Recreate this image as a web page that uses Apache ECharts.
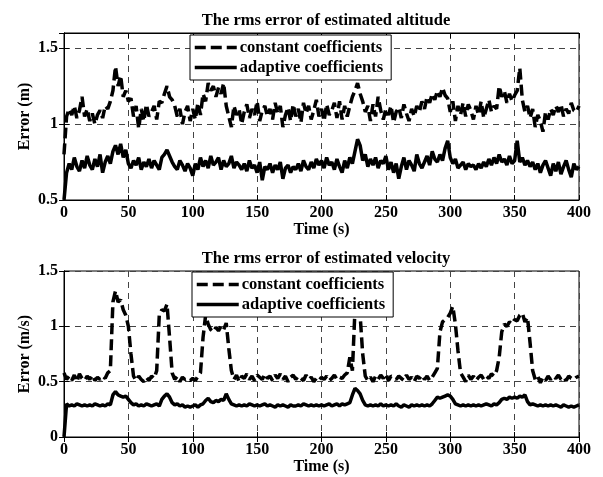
<!DOCTYPE html>
<html>
<head>
<meta charset="utf-8">
<script src="https://cdn.jsdelivr.net/npm/echarts@6/dist/echarts.min.js"></script>
<style>
  html, body { margin: 0; padding: 0; background: #fff; }
  #main { width: 603px; height: 477px; }
</style>
</head>
<body>
<div id="main"></div>
<script>
// rms error, altitude (top) and velocity (bottom), sampled every 2 s
var time = [];
for (var t = 0; t <= 400; t += 2) time.push(t);

var altConst = [
  0.80, 1.05, 1.10, 1.06, 1.12, 1.04, 1.09, 1.18, 1.05, 1.10,
  1.02, 1.07, 1.00, 1.06, 1.09, 1.04, 1.12, 1.10, 1.15, 1.22,
  1.38, 1.25, 1.32, 1.18, 1.22, 1.15, 1.17, 1.05, 1.12, 0.97,
  1.10, 1.02, 1.13, 1.05, 1.08, 1.12, 1.03, 1.15, 1.14, 1.20,
  1.25, 1.18, 1.16, 1.12, 1.05, 1.10, 1.00, 1.08, 1.12, 1.02,
  1.10, 1.03, 1.14, 1.06, 1.20, 1.15, 1.27, 1.22, 1.25, 1.18,
  1.24, 1.20, 1.27, 1.12, 1.05, 0.98, 1.12, 1.06, 1.10, 1.00,
  1.08, 1.13, 1.04, 1.10, 1.06, 1.15, 1.02, 1.09, 1.12, 1.05,
  1.10, 1.03, 1.14, 1.07, 1.12, 0.98, 1.06, 1.11, 1.02, 1.13,
  1.05, 1.10, 1.01, 1.14, 1.07, 1.12, 1.03, 1.09, 1.16, 1.05,
  1.10, 1.02, 1.13, 1.06, 1.09, 1.14, 1.04, 1.15, 1.03, 1.12,
  1.05, 1.12, 1.18, 1.22, 1.27, 1.20, 1.15, 1.08, 1.12, 1.02,
  1.13, 1.05, 1.18, 1.09, 1.03, 1.10, 1.06, 1.12, 1.01, 1.08,
  1.11, 1.04, 1.13, 1.07, 1.02, 1.10, 1.05, 1.12, 1.08, 1.15,
  1.10, 1.18, 1.14, 1.20, 1.16, 1.22, 1.18, 1.24, 1.19, 1.17,
  1.08, 1.15, 1.02, 1.12, 1.06, 1.14, 1.05, 1.13, 1.09, 1.03,
  1.12, 1.06, 1.15, 1.04, 1.10, 1.16, 1.08, 1.12, 1.10, 1.25,
  1.18, 1.22, 1.14, 1.20, 1.15, 1.19, 1.22, 1.37, 1.16, 1.08,
  1.12, 1.04, 1.10, 0.98, 1.06, 1.02, 0.95, 1.08, 1.03, 1.10,
  1.06, 1.12, 1.08, 1.13, 1.05, 1.10, 1.07, 1.14, 1.09, 1.08,
  1.12
];
var altAdapt = [
  0.50, 0.68, 0.74, 0.70, 0.78, 0.72, 0.69, 0.76, 0.71, 0.79,
  0.73, 0.70, 0.77, 0.72, 0.80, 0.68, 0.75, 0.79, 0.74, 0.82,
  0.86, 0.80, 0.87, 0.78, 0.83, 0.74, 0.71, 0.76, 0.73, 0.78,
  0.70, 0.75, 0.72, 0.77, 0.71, 0.76, 0.73, 0.70, 0.78, 0.80,
  0.83, 0.79, 0.75, 0.72, 0.70, 0.76, 0.73, 0.69, 0.74, 0.71,
  0.66, 0.74, 0.70, 0.78, 0.72, 0.76, 0.71, 0.79, 0.73, 0.75,
  0.78, 0.70, 0.76, 0.72, 0.74, 0.79, 0.71, 0.75, 0.73, 0.70,
  0.74, 0.69, 0.76, 0.71, 0.73, 0.68, 0.75, 0.63, 0.72, 0.70,
  0.74, 0.68, 0.73, 0.70, 0.75, 0.64, 0.71, 0.73, 0.68, 0.72,
  0.70, 0.74, 0.69, 0.76, 0.72, 0.70, 0.75, 0.71, 0.77, 0.73,
  0.76, 0.71, 0.78, 0.73, 0.75, 0.70, 0.77, 0.72, 0.68, 0.76,
  0.71, 0.78, 0.74, 0.82, 0.90, 0.86, 0.76, 0.80, 0.72, 0.77,
  0.73, 0.78, 0.71, 0.76, 0.74, 0.79, 0.70, 0.75, 0.68, 0.74,
  0.64, 0.72, 0.78, 0.70, 0.76, 0.73, 0.69, 0.80, 0.74, 0.71,
  0.75, 0.79, 0.73, 0.82, 0.77, 0.75, 0.80, 0.76, 0.84, 0.89,
  0.78, 0.74, 0.77, 0.71, 0.73, 0.75, 0.70, 0.74, 0.72, 0.73,
  0.70, 0.74, 0.71, 0.75, 0.72, 0.77, 0.73, 0.78, 0.74, 0.80,
  0.75, 0.77, 0.73, 0.79, 0.74, 0.76, 0.89, 0.75, 0.78, 0.73,
  0.76, 0.72, 0.75, 0.70, 0.74, 0.68, 0.73, 0.76, 0.71, 0.66,
  0.74, 0.69, 0.75, 0.67, 0.72, 0.76, 0.70, 0.65, 0.74, 0.70,
  0.72
];
var velConst = [
  0.58, 0.52, 0.55, 0.51, 0.56, 0.50, 0.57, 0.53, 0.51, 0.55,
  0.52, 0.56, 0.51, 0.54, 0.52, 0.55, 0.53, 0.58, 0.60, 1.22,
  1.32, 1.22, 1.24, 1.15, 1.10, 1.00, 0.75, 0.55, 0.51, 0.55,
  0.52, 0.50, 0.54, 0.51, 0.55, 0.53, 0.60, 1.10, 1.15, 1.14,
  1.20, 0.90, 0.58, 0.52, 0.55, 0.50, 0.54, 0.52, 0.53, 0.51,
  0.53, 0.51, 0.55, 0.58, 0.90, 1.10, 1.02, 0.97, 0.95, 0.99,
  0.96, 1.00, 0.97, 1.03, 0.80, 0.60, 0.52, 0.56, 0.50, 0.55,
  0.53, 0.57, 0.52, 0.55, 0.51, 0.56, 0.54, 0.52, 0.57, 0.53,
  0.55, 0.51, 0.56, 0.53, 0.57, 0.52, 0.55, 0.50, 0.54, 0.56,
  0.52, 0.55, 0.53, 0.51, 0.56, 0.52, 0.54, 0.50, 0.53, 0.51,
  0.54, 0.52, 0.55, 0.51, 0.53, 0.56, 0.52, 0.54, 0.53, 0.56,
  0.58, 0.72, 0.60, 1.15, 1.22, 1.10, 0.75, 0.55, 0.51, 0.54,
  0.50, 0.55, 0.52, 0.56, 0.53, 0.57, 0.51, 0.55, 0.54, 0.52,
  0.55, 0.53, 0.51, 0.56, 0.52, 0.54, 0.50, 0.55, 0.53, 0.56,
  0.52, 0.55, 0.51, 0.54, 0.58, 0.62, 0.95, 1.04, 1.06, 1.08,
  1.12, 1.18, 1.02, 0.78, 0.58, 0.54, 0.50, 0.56, 0.52, 0.55,
  0.51, 0.54, 0.56, 0.52, 0.55, 0.53, 0.57, 0.55, 0.60, 0.72,
  0.95, 1.02, 1.00, 1.04, 1.02, 1.06, 1.05, 1.10, 1.12, 1.04,
  1.08, 0.85, 0.60, 0.52, 0.55, 0.49, 0.54, 0.51, 0.55, 0.52,
  0.55, 0.53, 0.56, 0.52, 0.54, 0.51, 0.55, 0.53, 0.52, 0.54,
  0.55
];
var velAdapt = [
  0.00, 0.30, 0.28, 0.29, 0.28, 0.30, 0.29, 0.28, 0.29, 0.28,
  0.29, 0.28, 0.30, 0.29, 0.28, 0.29, 0.28, 0.30, 0.29, 0.38,
  0.41, 0.38, 0.37, 0.36, 0.37, 0.34, 0.31, 0.29, 0.30, 0.28,
  0.29, 0.28, 0.30, 0.29, 0.28, 0.29, 0.30, 0.28, 0.34, 0.37,
  0.39, 0.36, 0.31, 0.29, 0.30, 0.28, 0.29, 0.27, 0.28, 0.27,
  0.28, 0.29, 0.27, 0.29, 0.30, 0.33, 0.35, 0.32, 0.31, 0.33,
  0.32, 0.34, 0.33, 0.39, 0.34, 0.30, 0.29, 0.28, 0.29, 0.28,
  0.29, 0.28, 0.30, 0.29, 0.28, 0.29, 0.28, 0.29, 0.30, 0.28,
  0.29, 0.28, 0.27, 0.29, 0.28, 0.29, 0.28, 0.27, 0.29, 0.28,
  0.28, 0.29, 0.28, 0.30, 0.29, 0.28, 0.29, 0.28, 0.29, 0.28,
  0.29, 0.28, 0.29, 0.30, 0.28, 0.29, 0.30, 0.28, 0.30, 0.29,
  0.30, 0.31, 0.38, 0.44, 0.42, 0.39, 0.33, 0.29, 0.28, 0.29,
  0.28, 0.29, 0.28, 0.30, 0.28, 0.29, 0.28, 0.29, 0.28, 0.30,
  0.28, 0.27, 0.29, 0.28, 0.27, 0.29, 0.28, 0.29, 0.28, 0.29,
  0.28, 0.29, 0.28, 0.30, 0.33, 0.36, 0.35, 0.36, 0.37, 0.38,
  0.37, 0.34, 0.30, 0.29, 0.28, 0.29, 0.28, 0.29, 0.28, 0.29,
  0.28, 0.29, 0.28, 0.29, 0.30, 0.29, 0.28, 0.30, 0.29, 0.31,
  0.34, 0.35, 0.34, 0.36, 0.35, 0.36, 0.35, 0.37, 0.36, 0.38,
  0.32, 0.29, 0.30, 0.29, 0.28, 0.29, 0.28, 0.29, 0.28, 0.29,
  0.28, 0.29, 0.28, 0.27, 0.29, 0.28, 0.27, 0.28, 0.27, 0.28,
  0.29
];

var names = ["constant coefficients", "adaptive coefficients"];
var titles = ["The rms error of estimated altitude", "The rms error of estimated velocity"];

function pairs(ys) {
  return ys.map(function (y, i) { return [time[i], y]; });
}

var font = "Liberation Serif";
var labelStyle = { fontFamily: font, fontWeight: "bold", fontSize: 16, color: "#000" };
var gridLine = { lineStyle: { color: "#444", type: [6, 5], width: 1 } };
var tick = { show: true, inside: true, length: 5, lineStyle: { color: "#000" } };

function xAxis(idx) {
  return {
    type: "value", gridIndex: idx, min: 0, max: 400, interval: 50,
    name: "Time (s)", nameLocation: "middle", nameGap: 22, nameMoveOverlap: false,
    nameTextStyle: labelStyle,
    axisLine: { lineStyle: { color: "#000" } },
    axisTick: tick,
    axisLabel: Object.assign({ margin: 5 }, labelStyle),
    splitLine: gridLine
  };
}
function xTop(idx) {
  return {
    type: "value", gridIndex: idx, min: 0, max: 400, interval: 50, position: "top",
    axisLine: { lineStyle: { color: "#000" } }, axisTick: tick,
    axisLabel: { show: false }, splitLine: { show: false }
  };
}
function yAxis(idx, min, max, name) {
  return {
    type: "value", gridIndex: idx, min: min, max: max, interval: 0.5,
    name: name, nameLocation: "middle", nameGap: 31, nameRotate: 90, nameMoveOverlap: false,
    nameTextStyle: labelStyle,
    axisLine: { show: true, lineStyle: { color: "#000" } },
    axisTick: tick,
    axisLabel: Object.assign({ margin: 6, showMaxLabel: max === 1.5 }, labelStyle),
    splitLine: gridLine
  };
}
function yRight(idx, min, max) {
  return {
    type: "value", gridIndex: idx, min: min, max: max, interval: 0.5, position: "right",
    axisLine: { show: true, lineStyle: { color: "#000" } }, axisTick: tick,
    axisLabel: { show: false }, splitLine: { show: false }
  };
}
function line(name, idx, ys, dashed) {
  return {
    name: name, type: "line", xAxisIndex: idx * 2, yAxisIndex: idx * 2,
    data: pairs(ys), symbol: "none",
    lineStyle: { color: "#000", width: 3.5, type: dashed ? [11, 5] : "solid" },
    itemStyle: { color: "#000" }
  };
}
function legend(left, top) {
  return {
    orient: "vertical", left: left, top: top, data: names,
    padding: [4, 8, 4, 3], itemGap: 3, itemWidth: 42, itemHeight: 18,
    borderColor: "#000", borderWidth: 1, borderRadius: 0, backgroundColor: "#fff",
    itemStyle: { opacity: 0 },
    lineStyle: { width: 3.5 },
    textStyle: { fontFamily: font, fontWeight: "bold", fontSize: 16.5, color: "#000", padding: [0, 0, 0, -2] }
  };
}
var titleStyle = { fontFamily: font, fontWeight: "bold", fontSize: 16.5, color: "#000" };

var chart = echarts.init(document.getElementById("main"));
chart.setOption({
  animation: false,
  backgroundColor: "#fff",
  title: [
    { text: titles[0], left: 321, top: 7, textAlign: "center", textStyle: titleStyle },
    { text: titles[1], left: 321, top: 245, textAlign: "center", textStyle: titleStyle }
  ],
  legend: [legend(190, 35), legend(192, 272)],
  grid: [
    { left: 64, top: 33, width: 515, height: 167, show: true, borderColor: "#000", borderWidth: 1 },
    { left: 64, top: 271, width: 515, height: 166, show: true, borderColor: "#000", borderWidth: 1 }
  ],
  xAxis: [xAxis(0), xTop(0), xAxis(1), xTop(1)],
  yAxis: [yAxis(0, 0.5, 1.6, "Error (m)"), yRight(0, 0.5, 1.6), yAxis(1, 0, 1.5, "Error (m/s)"), yRight(1, 0, 1.5)],
  series: [
    line(names[0], 0, altConst, true),
    line(names[1], 0, altAdapt, false),
    line(names[0], 1, velConst, true),
    line(names[1], 1, velAdapt, false)
  ]
});
</script>
</body>
</html>
